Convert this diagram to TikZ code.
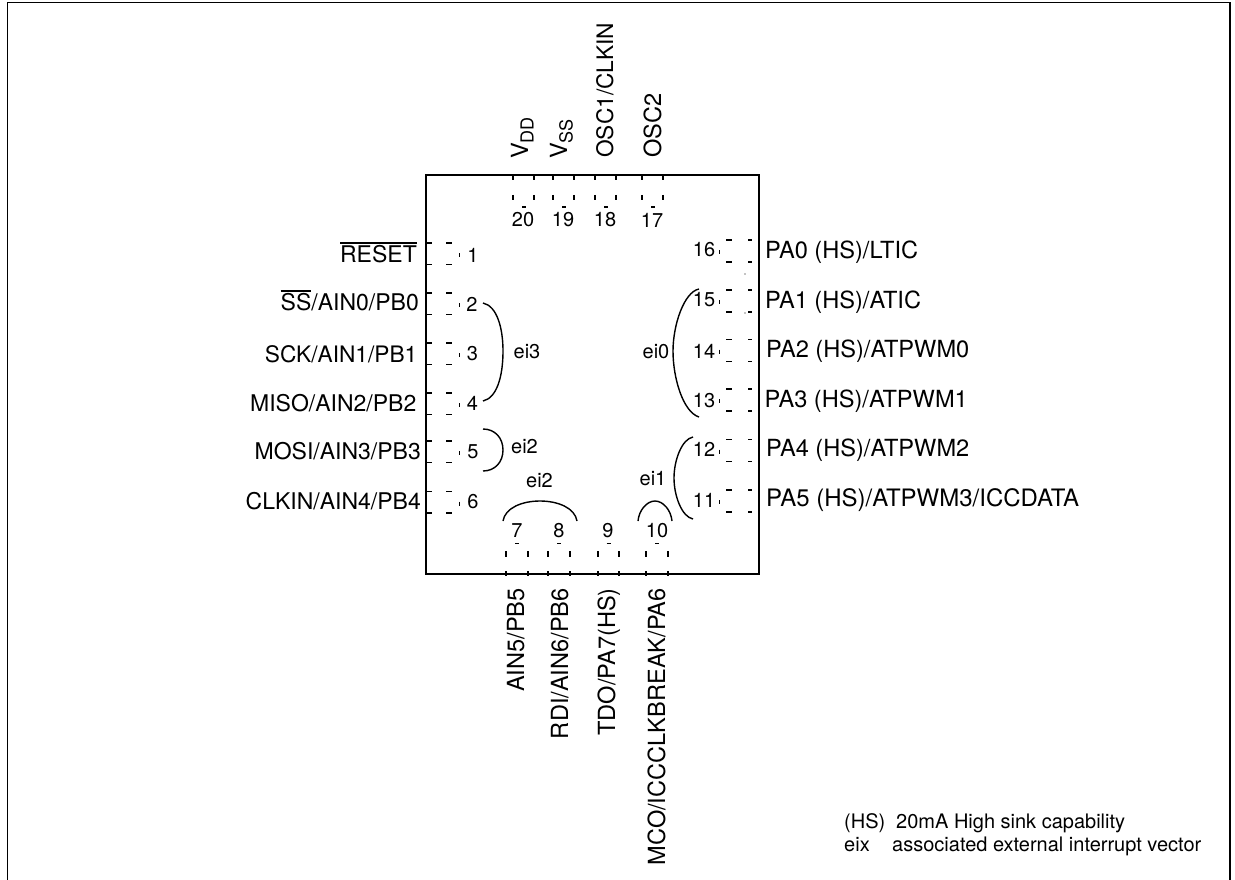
\documentclass[tikz,border=0pt]{standalone}
\usepackage{fontspec}
\setmainfont{TeX Gyre Heros}
\newcommand{\fsA}{\fontsize{23.6}{26}\selectfont}
\newcommand{\fsL}{\fontsize{23}{26}\selectfont}
\newcommand{\fsW}{\fontsize{24}{26}\selectfont}
\newcommand{\fsN}{\fontsize{22.7}{26}\selectfont}
\newcommand{\fsB}{\fontsize{20}{22}\selectfont}
\newcommand{\fsC}{\fontsize{20}{22}\selectfont}
\newcommand{\fsD}{\fontsize{20}{24}\selectfont}
\newcommand{\ovl}[1]{\leavevmode\vbox{\hrule height 1.4pt\kern 1.2pt\hbox{#1}}}
\newcommand{\lowsub}[1]{\raisebox{-5.5pt}{\fontsize{18}{20}\selectfont #1}}
\tikzset{
  x=1pt,y=-1pt,
  frameline/.style={line width=1.4pt,black},
  chipbox/.style={line width=2pt,black},
  pinmark/.style={line width=1.5pt,black},
  arcline/.style={line width=1.4pt,black},
  leftlabel/.style={anchor=base east,inner sep=0pt,font=\fsL},
  rightlabel/.style={anchor=base west,inner sep=0pt,font=\fsA},
  toplabel/.style={rotate=90,anchor=base west,inner sep=0pt,font=\fsA},
  botlabel/.style={rotate=90,anchor=base east,inner sep=0pt,font=\fsA},
  pinnum/.style={inner sep=0pt,font=\fsB},
  eilabel/.style={inner sep=0pt,font=\fsC},
  notelabel/.style={anchor=base west,inner sep=0pt,font=\fsD}
}
\begin{document}
\begin{tikzpicture}
\useasboundingbox (0,0) rectangle (1235,880);
\fill[white] (0,0) rectangle (1235,880);
% outer frame
\coordinate (fa) at (7.5,880);
\coordinate (fb) at (7.5,2.5);
\coordinate (fc) at (1230,2.5);
\coordinate (fd) at (1230,880);
\draw[frameline] (fa) -- (fb) -- (fc) -- (fd);
% chip
\node[chipbox,draw,minimum width=333pt,minimum height=399pt,inner sep=0pt,anchor=north west] (chip) at (425,174) {};
% left pins
\foreach \p/\yt in {1/243,2/293,3/343,4/393,5/441,6/491.5}{
  \draw[pinmark] (427,\yt) -- (432,\yt) (446,\yt) -- (452,\yt);
  \draw[pinmark] (427,\yt+21.5) -- (432,\yt+21.5) (446,\yt+21.5) -- (452,\yt+21.5);
  \draw[line width=1pt] (459,\yt+10) -- (459,\yt+14);
}
% right pins
\foreach \p/\yt in {16/240,15/290,14/339.5,13/389,12/439.5,11/490}{
  \draw[pinmark] (726,\yt) -- (732,\yt) (748,\yt) -- (752,\yt);
  \draw[pinmark] (726,\yt+22) -- (732,\yt+22) (748,\yt+22) -- (752,\yt+22);
  \draw[line width=1pt] (719,\yt+10) -- (719,\yt+14);
}
\fill (745,274) circle (0.6);
\fill (745,313) circle (0.6);
% top pins
\foreach \xa/\xb in {513/534,553/574,595/616,642/663}{
  \draw[pinmark] (\xa,176) -- (\xa,180) (\xb,176) -- (\xb,180);
  \draw[pinmark] (\xa,195) -- (\xa,200) (\xb,195) -- (\xb,200);
  \draw[line width=1pt] ({(\xa+\xb)/2-1.5},207) -- ({(\xa+\xb)/2+2.5},207);
}
% bottom pins
\foreach \xa/\xb in {506/528,548/570,598/619,646/668}{
  \draw[pinmark] (\xa,551) -- (\xa,557) (\xb,551) -- (\xb,557);
  \draw[pinmark] (\xa,571) -- (\xa,576) (\xb,571) -- (\xb,576);
  \draw[line width=1pt] ({(\xa+\xb)/2-2},543) -- ({(\xa+\xb)/2+2},543);
}
% pin numbers
\node[pinnum] (n1) at (473,255) {1};
\node[pinnum] (n2) at (472,304) {2};
\node[pinnum] (n3) at (472.5,353.5) {3};
\node[pinnum] (n4) at (472.5,403) {4};
\node[pinnum] (n5) at (473,452) {5};
\node[pinnum] (n6) at (473,502) {6};
\node[pinnum] (n7) at (517,531) {7};
\node[pinnum] (n8) at (559,531) {8};
\node[pinnum] (n9) at (608,531) {9};
\node[pinnum] (n10) at (657,531) {10};
\node[pinnum] (n11) at (704,500) {11};
\node[pinnum] (n12) at (704,449) {12};
\node[pinnum] (n13) at (704,401) {13};
\node[pinnum] (n14) at (704,351) {14};
\node[pinnum] (n15) at (704,300) {15};
\node[pinnum] (n16) at (704,250) {16};
\node[pinnum] (n17) at (652,220) {17};
\node[pinnum] (n18) at (605,220) {18};
\node[pinnum] (n19) at (563,220) {19};
\node[pinnum] (n20) at (523,220) {20};
% interrupt arcs
\coordinate (a1) at (483,303); \coordinate (a2) at (483,401);
\draw[arcline] (a1) .. controls (497,306) and (503,328) .. (503,351) .. controls (503,376) and (497,398) .. (a2);
\coordinate (b1) at (699,289); \coordinate (b2) at (699,417);
\draw[arcline] (b1) .. controls (684,292) and (673,325) .. (673,351) .. controls (673,378) and (683,412) .. (b2);
\coordinate (c1) at (483,429); \coordinate (c2) at (483,471);
\draw[arcline] (c1) .. controls (495,429) and (503,438) .. (503,450) .. controls (503,462) and (495,471) .. (c2);
\coordinate (d1) at (503,521); \coordinate (d2) at (577,521);
\draw[arcline] (d1) .. controls (505,508) and (522,501) .. (540,501) .. controls (558,501) and (575,508) .. (d2);
\coordinate (e1) at (638,521); \coordinate (e2) at (672,521);
\draw[arcline] (e1) .. controls (639,510) and (647,501) .. (655,501) .. controls (663,501) and (671,510) .. (e2);
\coordinate (g1) at (693,437); \coordinate (g2) at (693,519);
\draw[arcline] (g1) .. controls (682,439) and (674,460) .. (674,478) .. controls (674,496) and (682,517) .. (g2);
% interrupt labels
\node[eilabel] (ei3) at (527,352) {ei3};
\node[eilabel] (ei0) at (656,352) {ei0};
\node[eilabel] (ei2a) at (524.5,447) {ei2};
\node[eilabel] (ei2b) at (539.5,480.5) {ei2};
\node[eilabel] (ei1) at (653,479) {ei1};
% left labels
\node[leftlabel] (l1) at (417,262) {\ovl{RESET}};
\node[leftlabel] (l2) at (419,310) {\ovl{SS}/AIN0/PB0};
\node[leftlabel,font=\fsN] (l3) at (417.5,362) {SCK/AIN1/PB1};
\node[leftlabel] (l4) at (416.5,411) {MISO/AIN2/PB2};
\node[leftlabel] (l5) at (421,459) {MOSI/AIN3/PB3};
\node[leftlabel] (l6) at (421,509) {CLKIN/AIN4/PB4};
% right labels
\node[rightlabel] (r1) at (765,258) {PA0 (HS)/LTIC};
\node[rightlabel] (r2) at (765,308) {PA1 (HS)/ATIC};
\node[rightlabel] (r3) at (766,357) {PA2 (HS)/ATPWM0};
\node[rightlabel] (r4) at (764.5,407) {PA3 (HS)/ATPWM1};
\node[rightlabel] (r5) at (766,456) {PA4 (HS)/ATPWM2};
\node[rightlabel,font=\fsW] (r6) at (766,506) {PA5 (HS)/ATPWM3/ICCDATA};
% top labels
\node[toplabel] (t1) at (528,159) {V\lowsub{DD}};
\node[toplabel] (t2) at (567,159) {V\lowsub{SS}};
\node[toplabel,font=\fsN] (t3) at (613,158) {OSC1/CLKIN};
\node[toplabel] (t4) at (661,158) {OSC2};
% bottom labels
\node[botlabel] (b5) at (524,588) {AIN5/PB5};
\node[botlabel] (b6) at (568,588) {RDI/AIN6/PB6};
\node[botlabel] (b7) at (615,588) {TDO/PA7(HS)};
\node[botlabel] (b8) at (665,588) {MCO/ICCCLKBREAK/PA6};
% notes
\node[notelabel] (note1) at (844,828) {(HS)};
\node[notelabel] (note1b) at (896,828) {20mA High sink capability};
\node[notelabel] (note2) at (844,851) {eix};
\node[notelabel] (note3) at (892,851) {associated external interrupt vector};
\end{tikzpicture}
\end{document}
